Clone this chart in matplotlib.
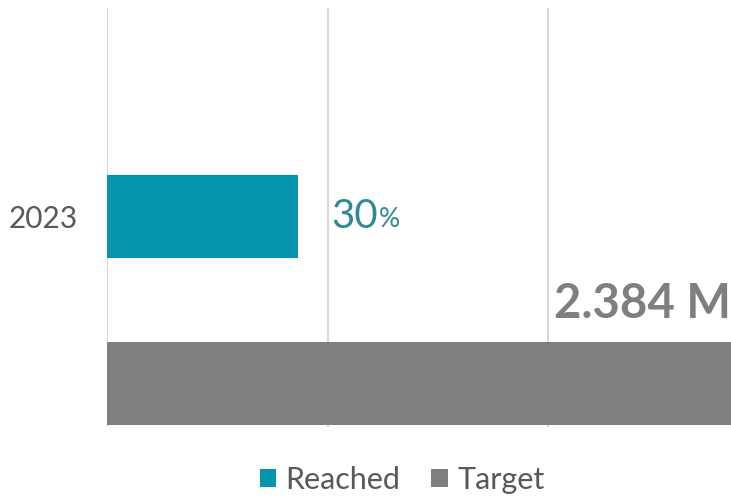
import matplotlib.pyplot as plt
from matplotlib.patches import Patch

# data
year_label = "2023"
series = ["Reached", "Target"]
values = [0.73, 2.384]          # millions
reached_label = "30"
target_label = "2.384 M"

colors = ["#0593AE", "#7F7F7F"]
text_grey = "#595959"

plt.rcParams['font.family'] = ['Lato', 'DejaVu Sans']

fig = plt.figure(figsize=(7.31, 4.98), dpi=100)
ax = fig.add_axes([107 / 731, 1 - 427 / 498, 624 / 731, 419 / 498])

ypos = [1, 0]
ax.barh(ypos, values, height=0.5, color=colors, zorder=2)

ax.set_xlim(0, values[1])
ax.set_ylim(-0.262, 2.249)

step = values[1] * 220.5 / 624
ax.set_xticks([0, step, 2 * step])
ax.xaxis.grid(True, color="#D9D9D9", linewidth=1.5, zorder=0)
ax.tick_params(axis="x", length=0, labelbottom=False)
ax.set_yticks([ypos[0]])
ax.set_yticklabels([year_label], fontsize=21.5, color=text_grey)
ax.tick_params(axis="y", length=0, pad=21)
for s in ax.spines.values():
    s.set_visible(False)

# value labels
t = ax.annotate(reached_label, xy=(step, ypos[0]), xytext=(3, 0), textcoords="offset points",
                ha="left", va="center", fontsize=29, color="#2E8A94")
ax.annotate("%", xy=(1, 0.08), xycoords=t, xytext=(0.5, 0), textcoords="offset points",
            ha="left", va="bottom", fontsize=19, color="#2E8A94")

ax.text(values[1], 0.345, target_label, ha="right", va="bottom", fontsize=34,
        fontweight="bold", color="#7F7F7F", clip_on=False)

handles = [Patch(facecolor=c, edgecolor="none") for c in colors]
fig.legend(handles, series, loc="center", bbox_to_anchor=(402 / 731, 1 - 480 / 498),
           ncol=2, frameon=False, fontsize=22, labelcolor=text_grey,
           handlelength=0.55, handleheight=0.55, handletextpad=0.3, columnspacing=1.0)

fig.savefig("out.png", dpi=100)
